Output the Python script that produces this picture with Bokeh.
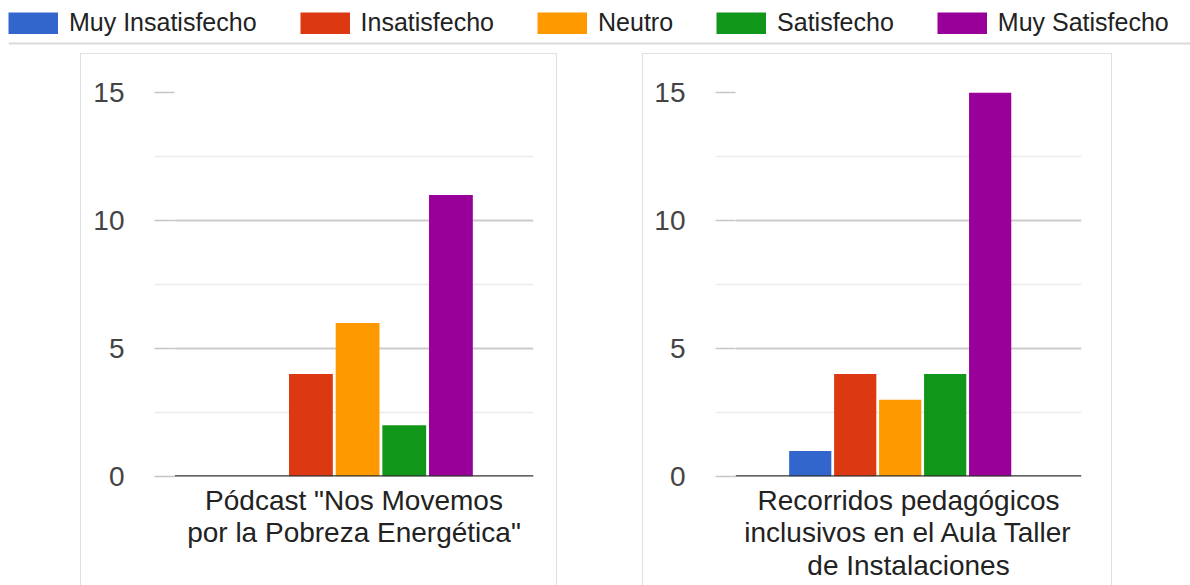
from bokeh.plotting import figure
from bokeh.models import (FactorRange, Range1d, FixedTicker, Span, Legend,
                          LegendItem, ColumnDataSource, Spacer)
from bokeh.layouts import column, row
from bokeh.transform import dodge
from bokeh.embed import file_html
from bokeh.resources import INLINE

# ---- data ----
series = ["Muy Insatisfecho", "Insatisfecho", "Neutro", "Satisfecho", "Muy Satisfecho"]
colors = ["#3366CC", "#DC3912", "#FF9900", "#109618", "#990099"]
cat_podcast = 'Pódcast "Nos Movemos\npor la Pobreza Energética"'
cat_recorridos = "Recorridos pedagógicos\ninclusivos en el Aula Taller\nde Instalaciones"
values_podcast = [0, 4, 6, 2, 11]
values_recorridos = [1, 4, 3, 4, 15]
y_ticks = [0, 5, 10, 15]
y_minor_ticks = [2.5, 7.5, 12.5]

FONT = "Liberation Sans"


def panel(category, values, width, b_left, b_right, shift, grid_minor):
    p = figure(width=width, height=532,
               x_range=FactorRange(factors=[category], range_padding=0),
               y_range=Range1d(0, 15),
               output_backend="svg", toolbar_location=None,
               min_border_left=b_left, min_border_right=b_right,
               min_border_top=38, min_border_bottom=110)
    data = {"cat": [category]}
    for i, v in enumerate(values):
        data[f"v{i}"] = [v]
    src = ColumnDataSource(data)
    for i, c in enumerate(colors):
        p.vbar(x=dodge("cat", shift + (i - 2) * 0.13, range=p.x_range),
               top=f"v{i}", width=0.122, source=src,
               fill_color=c, line_color=None)

    p.yaxis.ticker = FixedTicker(ticks=y_ticks, minor_ticks=y_minor_ticks)
    p.yaxis.axis_line_color = None
    p.yaxis.major_tick_in = 0
    p.yaxis.major_tick_out = 20
    p.yaxis.minor_tick_in = 0
    p.yaxis.minor_tick_out = 20
    p.yaxis.major_tick_line_color = "#c6c6c6"
    p.yaxis.major_tick_line_width = 1.5
    p.yaxis.minor_tick_line_color = "#ebebeb"
    p.yaxis.minor_tick_line_width = 1.5
    p.yaxis.major_label_standoff = 30
    p.yaxis.major_label_text_font = FONT
    p.yaxis.major_label_text_font_size = "28px"
    p.yaxis.major_label_text_color = "#444444"

    p.ygrid.ticker = FixedTicker(ticks=[5, 10], minor_ticks=grid_minor)
    p.ygrid.grid_line_color = "#cccccc"
    p.ygrid.grid_line_width = 2
    p.ygrid.minor_grid_line_color = "#ebebeb"
    p.ygrid.minor_grid_line_width = 1.5
    p.xgrid.grid_line_color = None

    p.xaxis.axis_line_color = None
    p.xaxis.major_tick_line_color = None
    p.xaxis.major_label_standoff = 2
    p.xaxis.major_label_text_font = FONT
    p.xaxis.major_label_text_font_size = "28px"
    p.xaxis.major_label_text_line_height = 1.05
    p.xaxis.major_label_text_color = "#222222"

    p.add_layout(Span(location=0, dimension="width", line_color="#333333",
                      line_width=2.5))
    p.outline_line_color = None
    p.background_fill_color = "white"
    p.border_fill_color = "white"
    p.styles = {"border": "1px solid #e0e0e0", "border-bottom": "none"}
    return p


p1 = panel(cat_podcast, values_podcast, 477, 93, 25, 0.01, y_minor_ticks)
p2 = panel(cat_recorridos, values_recorridos, 470, 92, 32, -0.024,
           y_minor_ticks + [15])

# ---- legend strip ----
leg = figure(width=1182, height=45, x_range=Range1d(0, 1), y_range=Range1d(0, 45),
             output_backend="svg", toolbar_location=None, min_border=0,
             x_axis_location=None, y_axis_location=None)
leg.grid.visible = False
leg.outline_line_color = None
nan = float("nan")
rends = [leg.line(x=[0, 0], y=[nan, nan], line_width=22, line_color=c,
                  line_cap="butt") for c in colors]
legend = Legend(items=[LegendItem(label=s, renderers=[r]) for s, r in zip(series, rends)],
                orientation="horizontal", location=(0, 8),
                glyph_width=50, glyph_height=22, label_standoff=11, spacing=43,
                padding=0, margin=0, border_line_color=None,
                background_fill_alpha=0, label_text_font=FONT,
                label_text_font_size="25px", label_text_color="#222222")
leg.add_layout(legend)
leg.add_layout(Span(location=2, dimension="width", line_color="#dadada", line_width=2))

layout = column(row(Spacer(width=8), leg), Spacer(height=8),
                row(Spacer(width=80), p1, Spacer(width=85), p2))

open("out.html", "w").write(file_html(layout, INLINE))
